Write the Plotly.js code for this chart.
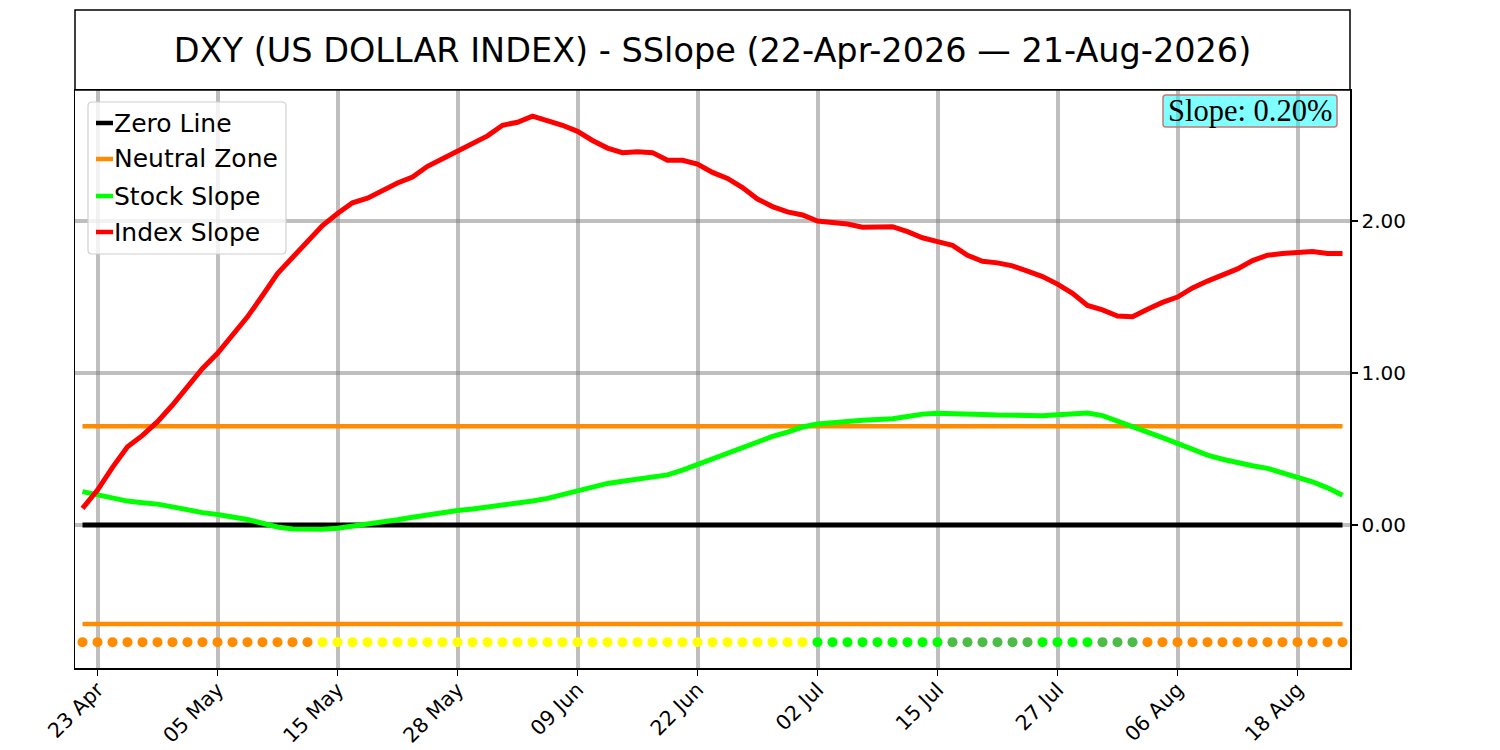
<!DOCTYPE html>
<html>
<head>
<meta charset="utf-8">
<script src="https://cdn.plot.ly/plotly-3.0.1.min.js"></script>
<style>
  html, body { margin: 0; padding: 0; background: #fff; }
  #chart { width: 1500px; height: 750px; }
</style>
</head>
<body>
<div id="chart"></div>
<script>
// trading day index 0 = 22-Apr-2026 ... 84 = 21-Aug-2026
const tickIdx = [1, 9, 17, 25, 33, 41, 49, 57, 65, 73, 81];
const tickLabels = ['23 Apr', '05 May', '15 May', '28 May', '09 Jun', '22 Jun',
                    '02 Jul', '15 Jul', '27 Jul', '06 Aug', '18 Aug'];

const indexSlope = [
  0.11, 0.23, 0.38, 0.515, 0.59, 0.68, 0.79, 0.91, 1.03, 1.13,
  1.25, 1.37, 1.51, 1.655, 1.76, 1.87, 1.97, 2.05, 2.12, 2.15,
  2.20, 2.25, 2.29, 2.36, 2.41, 2.46, 2.51, 2.56, 2.63, 2.65,
  2.69, 2.66, 2.63, 2.59, 2.53, 2.48, 2.45, 2.455, 2.45, 2.40,
  2.40, 2.375, 2.32, 2.28, 2.22, 2.145, 2.095, 2.06, 2.04, 2.00,
  1.99, 1.98, 1.96, 1.963, 1.963, 1.93, 1.89, 1.865, 1.84, 1.775,
  1.735, 1.725, 1.705, 1.67, 1.635, 1.585, 1.525, 1.445, 1.415, 1.375,
  1.37, 1.42, 1.465, 1.50, 1.56, 1.605, 1.645, 1.685, 1.74, 1.775,
  1.787, 1.79, 1.80, 1.787, 1.787
];

const stockSlope = [
  0.22, 0.20, 0.178, 0.158, 0.147, 0.138, 0.12, 0.10, 0.082, 0.07,
  0.055, 0.037, 0.012, -0.012, -0.025, -0.028, -0.027, -0.02, -0.007, 0.002,
  0.018, 0.035, 0.052, 0.068, 0.083, 0.096, 0.106, 0.118, 0.13, 0.143,
  0.158, 0.176, 0.20, 0.228, 0.252, 0.274, 0.288, 0.30, 0.31, 0.33,
  0.362, 0.40, 0.438, 0.476, 0.515, 0.553, 0.583, 0.612, 0.645, 0.665,
  0.676, 0.684, 0.69, 0.695, 0.70, 0.714, 0.73, 0.736, 0.736, 0.732,
  0.728, 0.724, 0.72, 0.717, 0.72, 0.726, 0.732, 0.737, 0.72, 0.686,
  0.65, 0.612, 0.575, 0.537, 0.498, 0.46, 0.433, 0.41, 0.39, 0.373,
  0.345, 0.318, 0.285, 0.245, 0.197
];

// signal state per day: 0 neutral, 1 weak, 2 moderate, 3 strong
const signal = [
  0,0,0,0,0,0,0,0,0,0,0,0,0,0,0,0,
  1,1,1,1,1,1,1,1,1,1,1,1,1,1,1,1,1,1,1,1,1,1,1,1,1,1,1,1,1,1,1,1,1,
  3,3,3,3,3,3,3,3,3,
  2,2,2,2,2,2,
  3,3,3,3,
  2,2,2,
  0,0,0,0,0,0,0,0,0,0,0,0,0,0
];

const neutralBand = 0.65;
const signalLevel = -0.77;
const slopeNow = 0.20;

const signalColours = ['#FF8C00', '#FFFF00', '#4CBB47', '#00FF00'];
const days = indexSlope.map((v, i) => i);
const ends = [0, days.length - 1];

var font = 'DejaVu Sans, sans-serif';

var data = [
  {
    x: ends, y: [0, 0], mode: 'lines', name: 'Zero Line',
    line: {color: 'black', width: 5}, hoverinfo: 'skip'
  },
  {
    x: ends, y: [neutralBand, neutralBand], mode: 'lines', name: 'Neutral Zone',
    line: {color: '#FF8C00', width: 4.5}, hoverinfo: 'skip'
  },
  {
    x: ends, y: [-neutralBand, -neutralBand], mode: 'lines', name: 'Neutral Zone',
    line: {color: '#FF8C00', width: 4.5}, hoverinfo: 'skip', inLegend: false
  },
  {
    x: days, y: stockSlope, mode: 'lines', name: 'Stock Slope',
    line: {color: '#00FF00', width: 5}
  },
  {
    x: days, y: indexSlope, mode: 'lines', name: 'Index Slope',
    line: {color: '#FF0000', width: 5}
  },
  {
    x: days, y: days.map(() => signalLevel), mode: 'markers', inLegend: false,
    marker: {size: 10, color: signal.map(s => signalColours[s])}
  }
];

// plot area in pixels: x 75..1350, y 90..668
const W = 1275, H = 578;
const px = p => (p - 75) / W;
const py = p => 1 - (p - 90) / H;

var shapes = [
  {
    type: 'rect', xref: 'paper', yref: 'paper',
    x0: 0, x1: 1, y0: 1, y1: 1 + 80 / H,
    line: {color: 'black', width: 1.5}, fillcolor: 'rgba(0,0,0,0)'
  }
];
var annotations = [];

function roundRect(x0, y0, x1, y1, r) {
  return 'M' + px(x0 + r) + ',' + py(y0) +
    ' L' + px(x1 - r) + ',' + py(y0) +
    ' Q' + px(x1) + ',' + py(y0) + ' ' + px(x1) + ',' + py(y0 + r) +
    ' L' + px(x1) + ',' + py(y1 - r) +
    ' Q' + px(x1) + ',' + py(y1) + ' ' + px(x1 - r) + ',' + py(y1) +
    ' L' + px(x0 + r) + ',' + py(y1) +
    ' Q' + px(x0) + ',' + py(y1) + ' ' + px(x0) + ',' + py(y1 - r) +
    ' L' + px(x0) + ',' + py(y0 + r) +
    ' Q' + px(x0) + ',' + py(y0) + ' ' + px(x0 + r) + ',' + py(y0) + ' Z';
}

// hand drawn legend (short line keys like the original)
shapes.push({
  type: 'path', xref: 'paper', yref: 'paper', path: roundRect(88, 102, 286, 254, 4),
  fillcolor: 'rgba(255,255,255,0.8)', line: {color: '#D0D0D0', width: 1.2}
});
const rowY = [123, 159, 196, 232];
data.filter(t => t.mode === 'lines' && t.inLegend !== false).forEach((t, k) => {
  shapes.push({
    type: 'line', xref: 'paper', yref: 'paper',
    x0: px(96), x1: px(113), y0: py(rowY[k]), y1: py(rowY[k]),
    line: {color: t.line.color, width: 4.5}
  });
  annotations.push({
    xref: 'paper', yref: 'paper', x: px(112), y: py(rowY[k]),
    xanchor: 'left', yanchor: 'middle', showarrow: false,
    text: t.name, font: {family: font, size: 25, color: 'black'}
  });
});

// slope box
shapes.push({
  type: 'path', xref: 'paper', yref: 'paper', path: roundRect(1163, 95, 1337, 127, 3),
  fillcolor: 'rgba(0,255,255,0.5)', line: {color: 'rgb(200,120,120)', width: 1.5}
});
annotations.push({
  xref: 'paper', yref: 'paper',
  x: px(1250), xanchor: 'center',
  y: py(111), yanchor: 'middle',
  text: 'Slope: ' + slopeNow.toFixed(2) + '%',
  showarrow: false,
  font: {family: 'Liberation Serif, Times New Roman, serif', size: 30.5, color: 'black'}
});

data.forEach(t => { delete t.inLegend; });

var layout = {
  width: 1500,
  height: 750,
  margin: {l: 75, r: 150, t: 90, b: 82},
  paper_bgcolor: 'white',
  plot_bgcolor: 'white',
  showlegend: false,
  font: {family: font, color: 'black', size: 20},
  title: {
    text: 'DXY (US DOLLAR INDEX) - SSlope (22-Apr-2026 \u2014 21-Aug-2026)',
    font: {family: font, size: 33.5, color: 'black'},
    xref: 'paper', x: 0.5, xanchor: 'center',
    yref: 'container', y: 1 - 50 / 750, yanchor: 'middle'
  },
  xaxis: {
    range: [-0.5, 84.5],
    tickvals: tickIdx,
    ticktext: tickLabels,
    tickangle: -45,
    ticks: 'outside', ticklen: 6, tickwidth: 1.5, tickcolor: 'black',
    ticklabelstandoff: -6,
    showgrid: true, gridcolor: 'rgba(128,128,128,0.5)', gridwidth: 4,
    showline: true, mirror: true, linecolor: 'black', linewidth: 1.5,
    zeroline: false,
    tickfont: {family: font, size: 20.5}
  },
  yaxis: {
    range: [-0.94, 2.862],
    side: 'right',
    tickvals: [0, 1, 2],
    tickformat: '.2f',
    ticks: 'outside', ticklen: 6, tickwidth: 1.5, tickcolor: 'black',
    showgrid: true, gridcolor: 'rgba(128,128,128,0.5)', gridwidth: 4,
    showline: true, mirror: true, linecolor: 'black', linewidth: 1.5,
    zeroline: false,
    tickfont: {family: font, size: 20}
  },
  shapes: shapes,
  annotations: annotations
};

Plotly.newPlot('chart', data, layout, {displayModeBar: false, staticPlot: true});
</script>
</body>
</html>
